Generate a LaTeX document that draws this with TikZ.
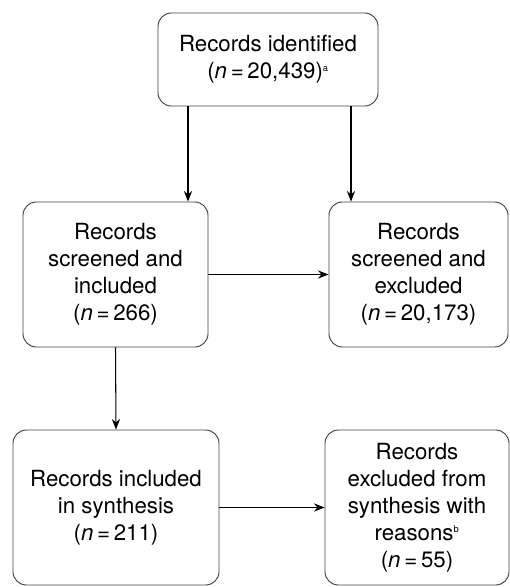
\documentclass[tikz,border=0pt]{standalone}
\usepackage{fontspec}
\setmainfont{TeX Gyre Heros}
\usepackage{tikz}
\usetikzlibrary{positioning, arrows.meta}

\tikzset{
    record/.style={draw=black!75, line width=0.8pt, rounded corners=0.4cm, align=center,
        font=\fontsize{19}{23}\selectfont, inner sep=0pt},
    flow/.style={-{Stealth[length=9pt, width=7pt]}, line width=0.9pt}
}
\newcommand{\nval}[1]{(\textit{n}\,=\,#1)}

\begin{document}
\begin{tikzpicture}[x=0.03cm, y=-0.03cm]
                \useasboundingbox (0, 0) rectangle (510, 587);
                \node[record, minimum width=6.6cm, minimum height=2.79cm] (ident) at (268, 59.5) {Records identified\\\nval{20,439}\textsuperscript{\footnotesize a}};
                \node[record, minimum width=5.55cm, minimum height=4.35cm] (incl) at (115.5, 274.5) {Records\\screened and\\included\\\nval{266}};
                \node[record, minimum width=5.37cm, minimum height=4.35cm] (excl) at (418.5, 274.5) {Records\\screened and\\excluded\\\nval{20,173}};
                \node[record, minimum width=6.18cm, minimum height=4.65cm] (synth) at (116, 507.5) {Records included\\in synthesis\\\nval{211}};
                \node[record, minimum width=5.52cm, minimum height=4.65cm] (reas) at (417, 507.5) {Records\\excluded from\\synthesis with\\reasons\textsuperscript{\footnotesize b}\\\nval{55}};

                \draw[flow] ([xshift=-2.4cm]ident.south) -- ([xshift=-2.4cm]ident.south |- incl.north);
                \draw[flow] ([xshift=2.49cm]ident.south) -- ([xshift=2.49cm]ident.south |- excl.north);
                \draw[flow] (incl.east) -- (excl.west);
                \draw[flow] (incl.south) -- (synth.north);
                \draw[flow] (synth.east) -- (reas.west);
            \end{tikzpicture}
\end{document}
